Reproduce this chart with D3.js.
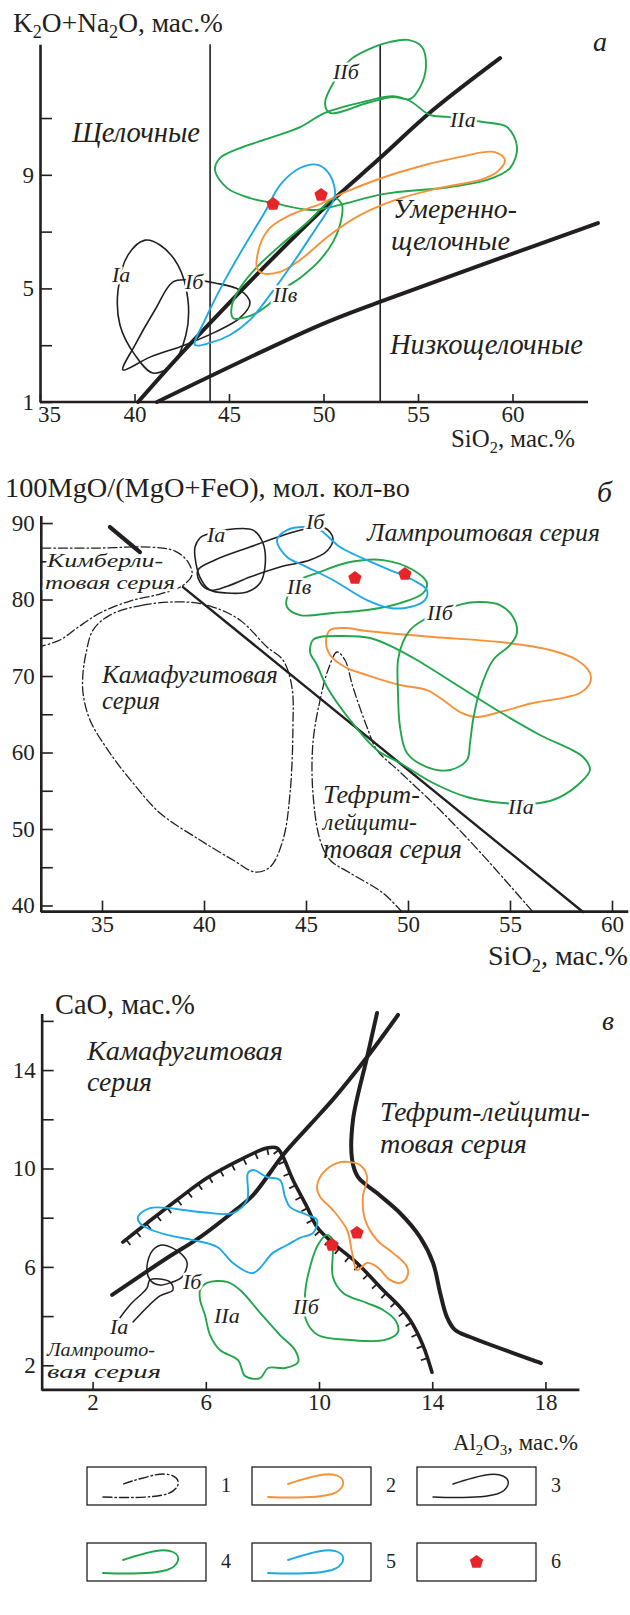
<!DOCTYPE html>
<html><head><meta charset="utf-8">
<script src="https://cdn.jsdelivr.net/npm/d3@7"></script>
<style>
body{margin:0;background:#fff}
svg{display:block}
text{font-family:"Liberation Serif","Times New Roman",serif;fill:#231f20}
</style>
</head><body>
<svg id="c" width="630" height="1615"></svg>
<script>
// ===================== DATA =====================
// Panel а : SiO2 vs K2O+Na2O
const aXMajor = [35, 40, 45, 50, 55, 60];
const aXMinor = [36,37,38,39,41,42,43,44,46,47,48,49,51,52,53,54,56,57,58,59,61,62,63];
const aYTicks = [1, 3, 5, 7, 9, 11];
const aYLabels = [1, 5, 9];
const aVerticals = [44, 53];
const aAlkLine = [[40.19,1.0],[43.04,3.11],[49.81,7.69],[52.99,9.59],[55.79,11.28],[59.34,13.11]];
const aLowLine = [[41.19,1.0],[49.81,3.71],[52.94,4.52],[64.52,7.30]];
const aIa = [[40.56,6.70],[39.66,6.18],[39.13,4.94],[39.23,3.71],[40.03,2.65],[40.98,2.02],[41.98,2.30],[42.72,3.36],[42.83,4.59],[42.30,5.82],[41.35,6.53]];
const aIb = [[39.39,2.13],[40.03,3.01],[41.08,4.24],[42.04,5.23],[42.94,5.30],[44.26,5.19],[45.58,4.94],[46.11,4.49],[45.58,3.96],[44.26,3.46],[42.67,3.01],[40.82,2.58]];
const aBlue = [[43.20,3.01],[43.73,3.89],[44.79,5.30],[45.85,6.53],[46.90,7.69],[47.70,8.64],[48.76,9.24],[49.71,9.35],[50.34,8.99],[50.61,8.29],[50.24,7.76],[49.55,7.06],[48.49,6.00],[47.17,4.77],[46.11,3.89],[45.05,3.36],[43.99,3.08]];
const aOrange = [[46.48,5.72],[46.64,6.53],[47.17,7.13],[48.23,7.58],[49.81,7.97],[51.14,8.39],[54.05,9.10],[57.22,9.63],[59.07,9.80],[59.60,9.52],[59.18,9.10],[58.28,8.82],[56.16,8.54],[53.78,8.11],[51.93,7.58],[50.34,6.88],[48.76,6.00],[47.70,5.58],[46.75,5.54]];
const aIIa = [[44.26,9.17],[44.89,8.54],[46.11,8.18],[47.33,8.01],[49.44,7.76],[50.87,7.94],[53.15,8.32],[56.69,8.57],[58.65,8.82],[59.87,9.24],[60.24,9.98],[59.71,10.68],[58.44,10.86],[56.59,11.04],[55.63,11.11],[54.58,11.60],[53.68,11.77],[52.30,11.60],[50.08,11.18],[48.76,10.68],[47.17,10.30],[45.58,9.94],[44.52,9.59]];
const aIIb = [[50.61,12.34],[50.08,11.53],[50.34,11.18],[52.30,11.53],[53.68,11.74],[54.58,11.67],[55.11,12.09],[55.42,12.80],[55.21,13.50],[54.47,13.75],[53.52,13.68],[52.30,13.39],[51.40,13.04]];
const aIIv = [[45.21,3.96],[45.16,4.42],[45.58,5.01],[46.48,5.75],[47.86,6.60],[49.29,7.41],[50.08,7.94],[50.61,8.18],[50.98,7.94],[50.87,7.23],[50.50,6.63],[49.81,6.00],[48.76,5.37],[47.96,5.01],[47.06,4.42],[46.11,4.03]];
const aPoints = [[47.33,7.97],[49.87,8.29]];

// Panel б : SiO2 vs 100MgO/(MgO+FeO)
const bXMajor = [35, 40, 45, 50, 55, 60];
const bXMinor = [32,33,34,36,37,38,39,41,42,43,44,46,47,48,49,51,52,53,54,56,57,58,59];
const bYTicks = [40, 45, 50, 55, 60, 65, 70, 75, 80, 85, 90];
const bYLabels = [40, 50, 60, 70, 80, 90];
const bLineThick = [[35.39,89.48],[36.86,86.21]];
const bLineThin = [[38.97,81.63],[58.58,39.15]];
const bKimb = [[32.06,86.73],[34.90,86.73],[37.35,86.86],[38.58,86.34],[39.22,84.90],[39.41,83.20],[38.92,81.76],[37.84,80.72],[36.37,79.80],[34.90,78.24],[33.77,76.27],[32.94,74.71],[32.06,73.92]];
const bKama = [[39.17,79.67],[37.01,79.28],[35.39,77.97],[34.56,76.01],[34.22,73.01],[34.07,70.39],[34.07,67.78],[34.41,64.25],[35.39,59.93],[36.52,56.01],[37.84,52.09],[39.80,48.56],[41.42,45.95],[42.50,44.38],[43.24,45.03],[43.87,48.56],[44.22,54.71],[44.36,63.33],[44.31,68.56],[43.87,72.09],[43.09,73.79],[41.76,77.32],[40.44,79.02]];
const bTeph = [[49.71,39.15],[48.77,41.63],[47.16,44.25],[46.18,45.95],[45.69,48.56],[45.34,54.71],[45.34,61.24],[45.69,66.86],[46.08,70.78],[46.52,73.14],[46.91,72.09],[47.30,68.56],[47.99,63.33],[48.48,60.33],[49.61,57.45],[51.57,52.48],[53.53,46.99],[56.13,39.15]];
const bIa = [[41.42,89.22],[42.40,89.08],[42.89,87.39],[42.99,84.25],[42.75,82.16],[42.11,80.98],[41.13,80.85],[40.29,81.24],[39.80,82.94],[39.56,85.56],[39.56,86.86],[39.80,88.04],[40.05,88.43]];
const bIb = [[39.71,83.86],[40.54,85.16],[42.25,86.86],[44.22,88.69],[45.20,89.35],[45.93,89.35],[46.32,88.04],[46.03,86.34],[45.20,85.16],[43.73,84.25],[42.25,82.94],[41.03,81.63],[40.29,81.24],[39.80,82.29]];
const bBlue = [[43.58,87.78],[44.07,89.08],[44.95,89.48],[45.69,89.08],[46.67,86.86],[48.77,84.25],[50.25,82.55],[50.93,81.24],[50.83,79.93],[50.10,79.02],[49.12,78.89],[47.99,79.93],[46.32,82.55],[44.95,84.38],[44.07,85.56]];
const bIIv = [[45.54,83.46],[47.16,84.90],[48.77,85.16],[50.25,83.86],[50.93,82.16],[50.74,80.85],[49.61,79.54],[47.99,78.63],[46.32,78.24],[44.71,77.97],[44.07,79.02],[44.12,80.59],[44.71,82.55]];
const bOrange = [[46.18,76.01],[46.91,76.27],[47.99,75.88],[51.23,75.10],[54.51,74.44],[56.96,73.40],[58.28,72.09],[58.92,70.39],[58.92,69.08],[58.43,67.78],[57.79,67.25],[56.13,66.47],[54.51,65.29],[53.38,64.64],[52.55,65.29],[51.72,66.86],[50.93,68.17],[49.61,68.82],[47.99,70.13],[46.91,71.18],[46.18,72.75],[45.98,74.44]];
const bIIa = [[45.34,74.71],[45.20,73.14],[45.54,71.44],[46.03,68.56],[47.16,64.25],[48.48,60.33],[49.61,58.63],[51.23,56.01],[52.89,54.18],[54.66,53.40],[56.47,53.40],[57.45,54.18],[58.43,56.01],[58.92,57.71],[58.58,59.41],[56.47,62.29],[54.51,65.29],[52.55,68.56],[50.44,72.09],[49.36,73.66],[48.14,74.97],[46.67,75.23],[45.69,75.10]];
const bIIb = [[50.59,77.06],[50.10,76.01],[49.75,74.44],[49.51,72.09],[49.51,67.78],[49.61,63.33],[49.95,59.93],[50.93,58.10],[52.06,57.71],[52.89,59.02],[53.04,61.24],[53.19,64.25],[53.53,68.17],[54.17,72.09],[55.00,74.05],[55.34,75.62],[55.15,77.71],[54.51,79.28],[53.53,79.67],[52.65,79.41]];
const bPoints = [[47.40,82.81],[49.85,83.33]];

// Panel в : Al2O3 vs CaO
const cXMajor = [2, 6, 10, 14, 18];
const cXMinor = [1,3,4,5,7,8,9,11,12,13,15,16,17,19];
const cYTicks = [2, 4, 6, 8, 10, 12, 14, 16];
const cYLabels = [2, 6, 10, 14];
const cLineA = [[2.69,4.86],[4.63,6.36],[5.80,7.21],[6.96,8.23],[7.67,8.92],[8.73,10.55],[9.68,11.77],[10.57,12.91],[11.70,14.53],[12.79,16.24]];
const cLineB = [[12.05,16.32],[11.70,14.53],[11.20,11.97],[11.17,10.35],[11.38,9.65],[12.05,9.00],[12.86,8.19],[13.57,7.21],[14.03,6.16],[14.28,4.94],[14.52,3.96],[14.81,3.43],[15.34,3.15],[17.84,2.09]];
const cHatched = [[3.07,7.01],[3.92,7.78],[4.98,8.72],[6.04,9.61],[7.21,10.35],[8.16,10.83],[8.52,10.83],[8.73,10.47],[9.08,9.53],[9.58,8.43],[9.93,7.62],[10.49,6.97],[11.34,6.16],[12.26,5.06],[12.86,4.37],[13.22,3.84],[13.67,2.82],[13.99,1.72]];
const cBlue = [[3.60,8.03],[4.03,8.39],[5.80,8.23],[6.96,8.19],[7.46,8.72],[7.49,9.82],[7.67,9.94],[8.16,9.65],[8.62,9.53],[8.80,8.84],[8.98,8.43],[9.58,8.11],[9.93,7.91],[9.79,7.38],[9.33,7.18],[8.87,6.89],[8.37,6.57],[7.67,5.75],[6.96,6.16],[6.40,6.81],[5.55,7.09],[4.63,7.30],[3.92,7.58],[3.67,7.78]];
const cOrange = [[11.10,10.26],[11.45,10.14],[11.70,9.65],[11.55,8.84],[11.63,7.91],[12.05,7.09],[12.61,6.57],[13.11,6.00],[13.11,5.59],[12.86,5.35],[12.51,5.47],[12.05,6.00],[11.70,6.16],[11.34,5.87],[11.17,6.57],[10.99,7.50],[10.49,8.31],[10.04,8.84],[9.93,9.25],[10.14,9.82],[10.64,10.22]];
const cIIb = [[10.28,7.30],[10.49,7.09],[10.49,6.57],[10.49,5.59],[10.85,4.94],[11.70,4.53],[12.26,4.25],[12.69,3.84],[12.79,3.35],[12.33,3.03],[11.10,3.03],[9.96,3.23],[9.54,3.84],[9.51,4.94],[9.68,5.99],[9.96,6.89]];
const cIIa = [[5.80,5.06],[6.04,5.35],[6.75,5.39],[7.21,5.06],[7.92,4.13],[8.62,3.23],[9.15,2.62],[9.26,2.13],[8.80,1.89],[8.20,1.89],[7.92,1.48],[7.39,1.56],[7.14,2.21],[6.50,2.62],[6.15,3.23],[5.97,4.04],[5.80,4.65]];
const cIb = [[4.13,6.69],[4.49,6.89],[5.09,6.57],[5.34,6.16],[5.16,5.59],[4.73,5.35],[4.38,5.26],[4.03,5.47],[3.92,6.00]];
const cIa = [[2.86,3.76],[3.32,4.45],[3.92,5.14],[4.03,5.47],[4.73,5.39],[4.84,5.06],[4.38,4.82],[3.43,3.76]];
const cPoints = [[11.34,7.38],[10.46,6.89]];

// Legend
const legendNumbers = ["1", "2", "3", "4", "5", "6"];
const legendKinds = ["dashdot", "orange", "black", "green", "blue", "point"];

// ===================== STYLE =====================
const BLACK = "#231f20", GREEN = "#22a64b", ORANGE = "#f7923a", BLUE = "#1ea9e4", RED = "#e5252a";
const DASHDOT = "9,3,1.5,3";
const svg = d3.select("#c");

function curvePath(g, pts, xs, ys, o) {
  const line = d3.line().x(d => xs(d[0])).y(d => ys(d[1]))
    .curve(o.closed ? d3.curveCatmullRomClosed.alpha(0.5) : (o.straight ? d3.curveLinear : d3.curveCatmullRom.alpha(0.5)));
  return g.append("path").attr("d", line(pts)).attr("fill", "none")
    .attr("stroke", o.color || BLACK).attr("stroke-width", o.w || 1.9)
    .attr("stroke-dasharray", o.dash || null)
    .attr("stroke-linejoin", "round").attr("stroke-linecap", o.cap || "round");
}

// o.fs: fixed font size (then width w is matched with textLength); otherwise size fitted to width
function label(g, str, x, yc, w, o = {}) {
  const fs0 = o.fs || 24;
  const t = g.append("text").attr("x", x).attr("font-size", fs0)
    .attr("font-style", o.italic ? "italic" : null);
  const parts = str.split(/(_\d)/).filter(p => p.length);
  parts.forEach(p => {
    if (p[0] === "_") t.append("tspan").attr("class", "sub").attr("font-size", "0.66em").text(p.slice(1));
    else t.append("tspan").attr("class", "norm").text(p);
  });
  let fs = fs0;
  if (o.fs) {
    if (w) t.attr("textLength", w).attr("lengthAdjust", "spacingAndGlyphs");
  } else if (w) {
    const len = t.node().getComputedTextLength();
    fs = fs0 * w / len;
  }
  t.attr("font-size", fs).attr("y", yc + fs * 0.3);
  let prevSub = false;
  t.selectAll("tspan").each(function () {
    const s = d3.select(this);
    const isSub = s.classed("sub");
    if (isSub && !prevSub) s.attr("dy", fs * 0.22);
    else if (!isSub && prevSub) s.attr("dy", -fs * 0.22);
    prevSub = isSub;
  });
  if (o.halo) t.attr("stroke", "#fff").attr("stroke-width", 5).attr("paint-order", "stroke").attr("stroke-linejoin", "round");
  return t;
}
const tag = (g, s, x, yc) => label(g, s, x, yc, null, { italic: true, halo: true, fs: 22 });

function pentagon(g, cx, cy, r) {
  const pts = d3.range(5).map(i => {
    const a = -Math.PI / 2 + i * 2 * Math.PI / 5;
    return [cx + r * Math.cos(a), cy + r * Math.sin(a)];
  });
  g.append("path").attr("d", "M" + pts.join("L") + "Z").attr("fill", RED);
}

function axes(g, xs, ys, c) {
  const yAxisY = ys.range()[0];
  const gx = g.append("g").attr("transform", `translate(0,${yAxisY})`);
  gx.call(d3.axisBottom(xs).tickValues(c.xMinor).tickSizeInner(-c.minorLen).tickSizeOuter(0).tickFormat(""));
  gx.call(d3.axisBottom(xs).tickValues(c.xMajor).tickSizeInner(-c.majorLen).tickSizeOuter(0).tickPadding(c.xPad).tickFormat(d3.format("d")));
  const gy = g.append("g").attr("transform", `translate(${c.yAxisX},0)`);
  gy.call(d3.axisLeft(ys).tickValues(c.yTicks).tickSizeInner(-c.yLen).tickSizeOuter(0).tickPadding(6)
    .tickFormat(d => c.yLabels.includes(d) ? d : ""));
  g.selectAll(".domain").attr("stroke", BLACK).attr("stroke-width", 2.6);
  g.selectAll(".tick line").attr("stroke", BLACK).attr("stroke-width", 1.6);
  g.selectAll(".tick text").attr("font-family", '"Liberation Serif","Times New Roman",serif')
    .attr("font-size", 23).attr("fill", BLACK);
  gx.selectAll(".domain").attr("d", `M${c.yAxisX},0H${xs.range()[1]}`);
  if (c.firstShift) gx.selectAll(".tick").filter(d => d === c.xMajor[0]).select("text").attr("dx", c.firstShift);
}

// ===================== PANEL а =====================
{
  const g = svg.append("g");
  const xs = d3.scaleLinear([35, 64], [40, 588.1]);
  const ys = d3.scaleLinear([1, 13.6], [402, 44.2]);
  axes(g, xs, ys, { xMajor: aXMajor, xMinor: aXMinor, minorLen: 5, majorLen: 8, xPad: 4,
    yAxisX: 40, yTicks: aYTicks, yLabels: aYLabels, yLen: 12, firstShift: 9 });
  aVerticals.forEach(v => curvePath(g, [[v, 1], [v, 13.6]], xs, ys, { w: 1.6, straight: true, cap: "butt" }));
  curvePath(g, aLowLine, xs, ys, { w: 4 });
  curvePath(g, aAlkLine, xs, ys, { w: 4 });
  curvePath(g, aIa, xs, ys, { closed: true, w: 1.6 });
  curvePath(g, aIb, xs, ys, { closed: true, w: 1.6 });
  curvePath(g, aIIa, xs, ys, { closed: true, color: GREEN });
  curvePath(g, aIIb, xs, ys, { closed: true, color: GREEN });
  curvePath(g, aIIv, xs, ys, { closed: true, color: GREEN });
  curvePath(g, aOrange, xs, ys, { closed: true, color: ORANGE });
  curvePath(g, aBlue, xs, ys, { closed: true, color: BLUE });
  aPoints.forEach(p => pentagon(g, xs(p[0]), ys(p[1]), 7));
  label(g, "K_2O+Na_2O, мас.%", 13, 24, 210);
  label(g, "а", 593, 43, 14, { italic: true });
  label(g, "Щелочные", 72, 133, 128, { italic: true });
  label(g, "Умеренно-", 393, 210, 124, { italic: true });
  label(g, "щелочные", 391, 242, 119, { italic: true });
  label(g, "Низкощелочные", 390, 345, 193, { italic: true });
  tag(g, "Iа", 112, 275);
  tag(g, "Iб", 185, 282);
  tag(g, "IIв", 273, 295);
  tag(g, "IIб", 333, 72);
  tag(g, "IIа", 450, 120);
  label(g, "SiO_2, мас.%", 451, 440, 124);
}

// ===================== PANEL б =====================
{
  const g = svg.append("g");
  const xs = d3.scaleLinear([32, 60.8], [40.8, 628.3]);
  const ys = d3.scaleLinear([39.2, 91], [911.6, 515.4]);
  axes(g, xs, ys, { xMajor: bXMajor, xMinor: bXMinor, minorLen: 7, majorLen: 11, xPad: 4,
    yAxisX: 40.8, yTicks: bYTicks, yLabels: bYLabels, yLen: 12 });
  curvePath(g, bKimb, xs, ys, { w: 1.3, dash: DASHDOT });
  curvePath(g, bKama, xs, ys, { closed: true, w: 1.3, dash: DASHDOT });
  curvePath(g, bTeph, xs, ys, { w: 1.3, dash: DASHDOT });
  curvePath(g, bLineThick, xs, ys, { w: 4.2, straight: true });
  curvePath(g, bLineThin, xs, ys, { w: 2.4, straight: true });
  curvePath(g, bIa, xs, ys, { closed: true, w: 1.6 });
  curvePath(g, bIb, xs, ys, { closed: true, w: 1.6 });
  curvePath(g, bOrange, xs, ys, { closed: true, color: ORANGE });
  curvePath(g, bIIa, xs, ys, { closed: true, color: GREEN });
  curvePath(g, bIIb, xs, ys, { closed: true, color: GREEN });
  curvePath(g, bIIv, xs, ys, { closed: true, color: GREEN });
  curvePath(g, bBlue, xs, ys, { closed: true, color: BLUE });
  bPoints.forEach(p => pentagon(g, xs(p[0]), ys(p[1]), 7));
  label(g, "100MgO/(MgO+FeO), мол. кол-во", 5, 488, 405);
  label(g, "б", 597, 493, 15, { italic: true });
  label(g, "Кимберли-", 47, 562, 116, { italic: true, halo: true, fs: 18 });
  label(g, "товая серия", 45, 584, 130, { italic: true, halo: true, fs: 18 });
  label(g, "Камафугитовая", 102, 675, 176, { italic: true });
  label(g, "серия", 102, 702, 58, { italic: true });
  label(g, "Тефрит-", 323, 795, 97, { italic: true });
  label(g, "лейцити-", 323, 823, 94, { italic: true });
  label(g, "товая серия", 323, 850, 139, { italic: true });
  label(g, "Лампроитовая серия", 367, 533, 233, { italic: true });
  tag(g, "Iа", 207, 535);
  tag(g, "Iб", 306, 522);
  tag(g, "IIв", 287, 587);
  tag(g, "IIб", 427, 613);
  tag(g, "IIа", 508, 807);
  label(g, "SiO_2, мас.%", 488, 957, 140);
}

// ===================== PANEL в =====================
{
  const g = svg.append("g");
  const xs = d3.scaleLinear([0.2, 19.2], [41.66, 579.4]);
  const ys = d3.scaleLinear([1.0, 16.3], [1389.9, 1013.5]);
  axes(g, xs, ys, { xMajor: cXMajor, xMinor: cXMinor, minorLen: 5, majorLen: 8, xPad: 4,
    yAxisX: 41.66, yTicks: cYTicks, yLabels: cYLabels, yLen: 12 });
  curvePath(g, cLineA, xs, ys, { w: 4 });
  curvePath(g, cLineB, xs, ys, { w: 4 });
  const hp = curvePath(g, cHatched, xs, ys, { w: 3.6 });
  const node = hp.node(), L = node.getTotalLength();
  for (let s = 4; s < L - 2; s += 13) {
    const p = node.getPointAtLength(s), q = node.getPointAtLength(s + 0.6);
    let tx = q.x - p.x, ty = q.y - p.y; const n = Math.hypot(tx, ty) || 1; tx /= n; ty /= n;
    g.append("line").attr("x1", p.x).attr("y1", p.y).attr("x2", p.x - ty * 7).attr("y2", p.y + tx * 7)
      .attr("stroke", BLACK).attr("stroke-width", 1.8);
  }
  curvePath(g, cIb, xs, ys, { closed: true, w: 1.5 });
  curvePath(g, cIa, xs, ys, { w: 1.5 });
  curvePath(g, cIIa, xs, ys, { closed: true, color: GREEN });
  curvePath(g, cIIb, xs, ys, { closed: true, color: GREEN });
  curvePath(g, cOrange, xs, ys, { closed: true, color: ORANGE });
  curvePath(g, cBlue, xs, ys, { closed: true, color: BLUE });
  cPoints.forEach(p => pentagon(g, xs(p[0]), ys(p[1]), 7));
  label(g, "CaO, мас.%", 55, 1005, 140);
  label(g, "в", 602, 1022, 12, { italic: true });
  label(g, "Камафугитовая", 87, 1052, 196, { italic: true });
  label(g, "серия", 87, 1083, 65, { italic: true });
  label(g, "Тефрит-лейцити-", 380, 1113, 210, { italic: true });
  label(g, "товая серия", 380, 1145, 147, { italic: true });
  label(g, "Лампроито-", 47, 1350, 108, { italic: true, fs: 19 });
  label(g, "вая серия", 47, 1372, 114, { italic: true, fs: 19 });
  tag(g, "Iа", 110, 1327);
  tag(g, "Iб", 183, 1282);
  tag(g, "IIа", 214, 1316);
  tag(g, "IIб", 293, 1307);
  label(g, "Al_2O_3, мас.%", 453, 1443, 125);
}

// ===================== LEGEND =====================
{
  const g = svg.append("g");
  const boxX = [87, 252, 417], boxY = [1467, 1543], bw = 119, bh = 38;
  const icon = "M16,30 C40,31 66,31 80,27 C92,23 95,13 86,9 C78,5 66,8 56,11 C48,13 42,15 36,17";
  legendNumbers.forEach((num, i) => {
    const x = boxX[i % 3], y = boxY[Math.floor(i / 3)];
    const kind = legendKinds[i];
    g.append("rect").attr("x", x).attr("y", y).attr("width", bw).attr("height", bh)
      .attr("fill", "none").attr("stroke", BLACK).attr("stroke-width", 1.3);
    if (kind === "point") pentagon(g, x + bw / 2, y + bh / 2, 7);
    else {
      const col = { dashdot: BLACK, black: BLACK, orange: ORANGE, green: GREEN, blue: BLUE }[kind];
      g.append("path").attr("transform", `translate(${x},${y})`).attr("d", icon).attr("fill", "none")
        .attr("stroke", col).attr("stroke-width", kind === "dashdot" || kind === "black" ? 1.4 : 1.9)
        .attr("stroke-dasharray", kind === "dashdot" ? DASHDOT : null).attr("stroke-linecap", "round");
    }
    label(g, num, x + bw + 15, y + bh / 2, 10);
  });
}
</script>
</body></html>
